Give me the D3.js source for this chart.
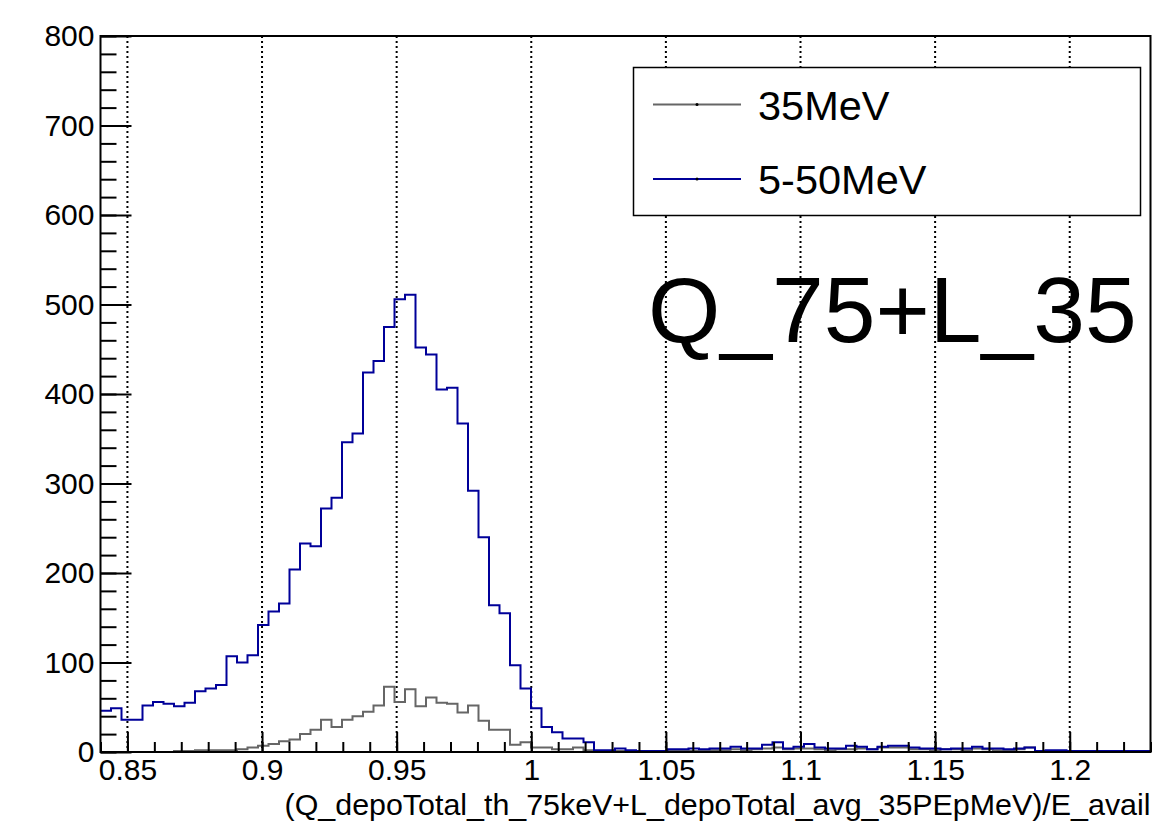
<!DOCTYPE html>
<html>
<head>
<meta charset="utf-8">
<script src="https://cdn.jsdelivr.net/npm/d3@7"></script>
<style>
  html, body { margin: 0; padding: 0; background: #fff; }
  svg { display: block; font-family: "Liberation Sans", Arial, Helvetica, sans-serif; }
</style>
</head>
<body>
<svg id="chart" width="1169" height="830"></svg>
<script>
// ---- data ----
const xMin = 0.84, xMax = 1.23, nBins = 100;
const seriesNames = ["35MeV", "5-50MeV"];
const series35 = [
  0,0,0,0,0,0,0,1,1,2,
  2,2,2,3,5,7,9,12,14,20,
  25,36,28,36,40,45,52,73,56,70,
  51,61,55,54,44,52,35,25,25,8,
  11,5,5,3,3,5,2,1,1,1,
  0,1,0,1,1,2,1,2,2,2,
  3,2,3,4,5,3,4,4,3,2,
  3,3,4,3,5,5,5,3,3,2,
  3,3,2,4,3,2,2,3,5,1,
  1,1,0,1,0,1,0,0,1,0
];
const series550 = [
  46,49,36,36,52,56,54,51,55,68,
  71,75,107,100,108,142,157,166,204,233,
  230,272,284,346,356,424,437,475,506,511,
  452,444,405,407,367,292,240,164,155,97,
  71,49,28,22,15,15,11,2,2,4,
  2,1,1,1,3,3,4,3,4,4,
  6,4,4,8,11,4,6,9,5,4,
  4,7,6,3,6,7,7,5,4,4,
  3,4,4,6,4,4,3,4,5,1,
  2,2,1,1,1,1,1,1,1,1
];
const xTickValues = [0.85, 0.9, 0.95, 1.0, 1.05, 1.1, 1.15, 1.2];
const xTickLabels = ["0.85", "0.9", "0.95", "1", "1.05", "1.1", "1.15", "1.2"];
const yTickValues = [0, 100, 200, 300, 400, 500, 600, 700, 800];
const yTickLabels = ["0", "100", "200", "300", "400", "500", "600", "700", "800"];
const xTitle = "(Q_depoTotal_th_75keV+L_depoTotal_avg_35PEpMeV)/E_avail";
const bigLabel = "Q_75+L_35";
const colors = ["#666666", "#000099"];

// ---- layout ----
const L = 100.5, R = 1150.5, T = 36, B = 752;
const svg = d3.select("#chart");
const x = d3.scaleLinear().domain([xMin, xMax]).range([L, R]);
const y = d3.scaleLinear().domain([0, 800]).range([B, T]);
const binW = (xMax - xMin) / nBins;

// vertical dotted grid
svg.append("g").selectAll("line").data(xTickValues).join("line")
  .attr("x1", d => x(d)).attr("x2", d => x(d))
  .attr("y1", T).attr("y2", B)
  .attr("stroke", "#000").attr("stroke-width", 2)
  .attr("stroke-dasharray", "2,3");

// histograms
function histPath(vals) {
  const pts = vals.map((v, i) => [xMin + i * binW, v]);
  pts.push([xMax, vals[vals.length - 1]]);
  return d3.line().x(d => x(d[0])).y(d => y(d[1])).curve(d3.curveStepAfter)(pts);
}
[series35, series550].forEach((s, i) => {
  svg.append("path").attr("d", histPath(s))
    .attr("fill", "none").attr("stroke", colors[i]).attr("stroke-width", 2);
});

// axes
const fontSize = 30;
const yMinor = d3.range(0, 801, 20);
svg.append("g").attr("transform", `translate(${L},0)`)
  .call(d3.axisLeft(y).tickValues(yMinor).tickSize(-16).tickSizeOuter(0).tickFormat(""))
  .call(g => g.select(".domain").remove())
  .call(g => g.selectAll("line").attr("stroke-width", 2));
svg.append("g").attr("transform", `translate(${L},0)`)
  .call(d3.axisLeft(y).tickValues(yTickValues).tickSize(-31).tickSizeOuter(0).tickPadding(6)
    .tickFormat((d, i) => yTickLabels[i]))
  .call(g => g.select(".domain").remove())
  .call(g => g.selectAll("line").attr("stroke-width", 2))
  .call(g => g.selectAll("text").attr("font-size", fontSize).attr("fill", "#000")
    .attr("font-family", "Liberation Sans, Arial, sans-serif"));

const xMinor = d3.range(84, 124).map(d => d / 100);
svg.append("g").attr("transform", `translate(0,${B})`)
  .call(d3.axisBottom(x).tickValues(xMinor).tickSize(-10).tickSizeOuter(0).tickFormat(""))
  .call(g => g.select(".domain").remove())
  .call(g => g.selectAll("line").attr("stroke-width", 2));
svg.append("g").attr("transform", `translate(0,${B})`)
  .call(d3.axisBottom(x).tickValues(xTickValues).tickSize(-20).tickSizeOuter(0).tickPadding(7)
    .tickFormat((d, i) => xTickLabels[i]))
  .call(g => g.select(".domain").remove())
  .call(g => g.selectAll("line").attr("stroke-width", 2))
  .call(g => g.selectAll("text").attr("font-size", fontSize).attr("fill", "#000")
    .attr("font-family", "Liberation Sans, Arial, sans-serif"));

// frame
svg.append("rect").attr("x", L).attr("y", T).attr("width", R - L).attr("height", B - T)
  .attr("fill", "none").attr("stroke", "#000").attr("stroke-width", 2);

// x title
svg.append("text").attr("x", R).attr("y", 815).attr("text-anchor", "end")
  .attr("font-size", 30.4).text(xTitle);

// legend
const lg = svg.append("g");
lg.append("rect").attr("x", 633.5).attr("y", 67.5).attr("width", 507).attr("height", 148)
  .attr("fill", "#fff").attr("stroke", "#000").attr("stroke-width", 1.5);
const legY = [104.5, 179];
seriesNames.forEach((n, i) => {
  lg.append("line").attr("x1", 653).attr("x2", 741).attr("y1", legY[i]).attr("y2", legY[i])
    .attr("stroke", colors[i]).attr("stroke-width", 2);
  lg.append("circle").attr("cx", 697).attr("cy", legY[i]).attr("r", 1.5).attr("fill", "#000");
  lg.append("text").attr("x", 758).attr("y", legY[i] + 15).attr("font-size", 41.5).text(n);
});

// big label
svg.append("text").attr("x", 648).attr("y", 342).attr("font-size", 93).text(bigLabel);
</script>
</body>
</html>
